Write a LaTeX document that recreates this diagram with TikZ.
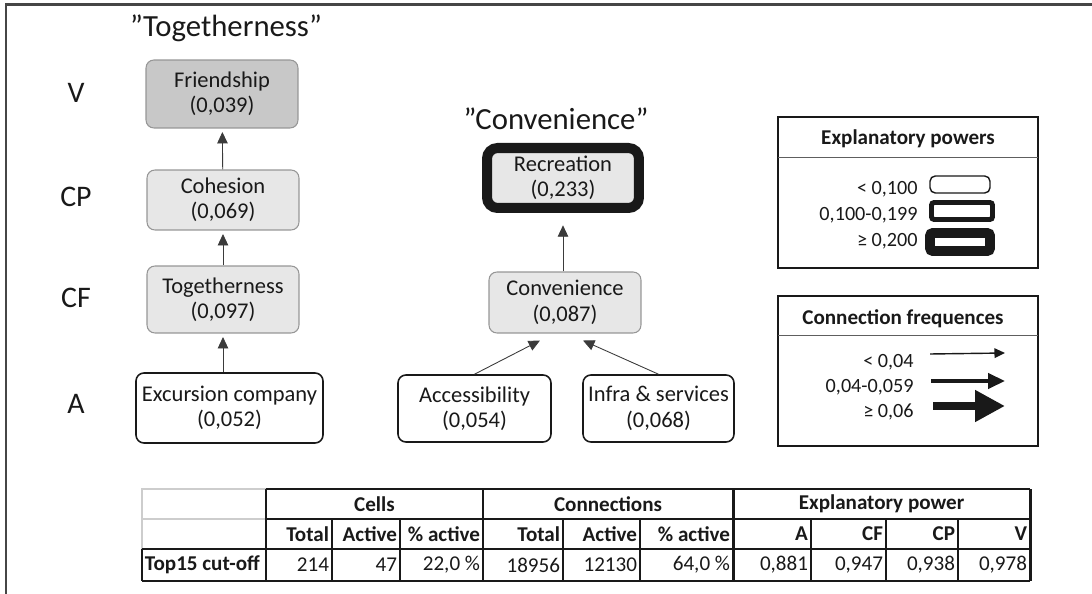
\documentclass[tikz,border=0pt]{standalone}
\usepackage{fontspec}
\setmainfont{Carlito}
\usepackage{tikz}
\usepackage{xcolor}
\usetikzlibrary{calc,arrows.meta}
\definecolor{framegrey}{RGB}{70,70,70}
\definecolor{boxdark}{RGB}{200,200,200}
\definecolor{boxlight}{RGB}{231,231,231}
\definecolor{boxline}{RGB}{150,150,150}
\definecolor{cellgrey}{RGB}{205,205,205}
\definecolor{inkblack}{RGB}{25,25,25}

\tikzset{
  boxtext/.style={font=\fontsize{12.8}{14.5}\selectfont, align=center, text=inkblack, inner sep=0pt},
  greybox/.style={boxtext, draw=boxline, fill=boxlight, rounded corners=4.5pt, line width=0.6pt, minimum width=3.04cm},
  whitebox/.style={boxtext, draw=inkblack, fill=white, rounded corners=4.5pt, line width=0.9pt},
  leveltext/.style={font=\fontsize{17}{20}\selectfont, text=inkblack},
  titletext/.style={font=\fontsize{17.5}{20}\selectfont, text=inkblack},
  linkarrow/.style={-{Triangle[length=6.5pt,width=6pt]}, line width=0.5pt, inkblack!85, shorten >=2pt},
  legendtitle/.style={font=\fontsize{12}{14}\selectfont\bfseries, text=inkblack},
  legendrow/.style={font=\fontsize{11.5}{13}\selectfont, anchor=east, text=inkblack, inner sep=0pt},
  tabhead/.style={font=\fontsize{12}{14}\selectfont\bfseries, text=inkblack},
  tabcell/.style={font=\fontsize{12}{14}\selectfont, anchor=east, text=inkblack, inner sep=1.5pt},
  tabthin/.style={inkblack, line width=1.1pt},
  tabthick/.style={inkblack, line width=1.7pt},
}

\begin{document}
\begin{tikzpicture}[x=0.02cm, y=-0.02cm]
\useasboundingbox (0,0) rectangle (1092,594);

% 1. FRAME
\draw[framegrey, line width=1.2pt] (6,594) -- (6,4.5) -- (1092,4.5);

% Titles and levels
\node[titletext] (titletog) at (226,28) {”Togetherness”};
\node[titletext] (titleconv) at (556,119) {”Convenience”};
\node[leveltext] (levv) at (76,93) {V};
\node[leveltext] (levcp) at (76,197) {CP};
\node[leveltext] (levcf) at (76,298) {CF};
\node[leveltext] (leva) at (76,404) {A};

% 2. TOGETHERNESS CHAIN
\node[greybox, fill=boxdark, minimum height=1.36cm] (friend) at (222,94) {Friendship\\(0,039)};
\node[greybox, minimum height=1.2cm] (cohes) at (223,200) {Cohesion\\(0,069)};
\node[greybox, minimum height=1.34cm] (togeth) at (223,299.5) {Togetherness\\(0,097)};
\node[whitebox, minimum width=3.74cm, minimum height=1.4cm] (excur) at (229.5,408) {Excursion company\\(0,052)};

\draw[linkarrow] (cohes) -- (friend);
\draw[linkarrow] (togeth) -- (cohes);
\draw[linkarrow] (excur.north -| togeth.south) -- (togeth.south);

% 3. CONVENIENCE CHAIN
\node[greybox, draw=inkblack, line width=5.7pt, rounded corners=6pt, minimum height=1.2cm] (recre) at (563,178) {Recreation\\(0,233)};
\node[greybox, minimum height=1.22cm] (conv) at (565,302.5) {Convenience\\(0,087)};
\node[whitebox, minimum width=3.06cm, minimum height=1.34cm] (access) at (474.5,408.5) {Accessibility\\(0,054)};
\node[whitebox, minimum width=3.02cm, minimum height=1.34cm] (infra) at (658.5,408.5) {Infra \& services\\(0,068)};

\coordinate (convleft) at ($(conv.south)+(-25,7)$);
\coordinate (convright) at ($(conv.south)+(18,7)$);
\draw[linkarrow, shorten >=7pt] (conv.north -| recre.south) -- (recre.south);
\draw[linkarrow, shorten >=0pt] (access.north) -- (convleft);
\draw[linkarrow, shorten >=0pt] (infra.north) -- (convright);

% 4. LEGEND: EXPLANATORY POWERS
\draw[inkblack, line width=0.8pt] (778,117) rectangle (1038,268);
\draw[inkblack!70, line width=0.5pt] (778,157) -- (1038,157);
\node[legendtitle] (powtitle) at (908,139) {Explanatory powers};
\node[legendrow] (powlow) at (918,189) {< 0,100};
\node[legendrow] (powmid) at (918,215) {0,100-0,199};
\node[legendrow] (powhigh) at (918,241) {≥ 0,200};
\draw[inkblack, line width=0.8pt, rounded corners=3pt] (930,176) rectangle (990,193);
\draw[inkblack, line width=2.8pt, rounded corners=1.5pt] (931.5,202.5) rectangle (992.5,219.5);
\draw[inkblack, line width=5.5pt, rounded corners=1.5pt] (930,233) rectangle (990,251);

% 5. LEGEND: CONNECTION FREQUENCES
\draw[inkblack, line width=0.8pt] (778,296) rectangle (1038,446);
\draw[inkblack!70, line width=0.5pt] (778,335) -- (1038,335);
\node[legendtitle] (freqtitle) at (903,319) {Connection frequences};
\node[legendrow] (freqlow) at (914,362) {< 0,04};
\node[legendrow] (freqmid) at (914,387) {0,04-0,059};
\node[legendrow] (freqhigh) at (914,412) {≥ 0,06};
\coordinate (thinfrom) at (930,354);
\coordinate (thinto) at (1005,353);
\coordinate (midfrom) at (931,381);
\coordinate (midto) at (1005,381);
\coordinate (fatfrom) at (933,406);
\coordinate (fatto) at (1005,406);
\draw[inkblack, line width=0.8pt, -{Triangle[length=6pt,width=5.5pt]}] (thinfrom) -- (thinto);
\draw[inkblack, line width=2.8pt, -{Triangle[length=9.6pt,width=8.5pt]}] (midfrom) -- (midto);
\draw[inkblack, line width=5pt, -{Triangle[length=17pt,width=17pt]}] (fatfrom) -- (fatto);

% 6. TABLE
% Empty corner cells
\draw[cellgrey, line width=0.6pt] (142,549) -- (142,489) -- (266,489);
\draw[cellgrey, line width=0.6pt] (142,519) -- (266,519);

% Grid
\draw[tabthick] (266,489) -- (1030,489);
\draw[tabthin] (266,519) -- (1030,519);
\draw[tabthin] (142,549) -- (1030,549);
\draw[tabthick] (142,581) -- (1030,581);
\draw[tabthin] (142,549) -- (142,581);
\foreach \xl in {266, 483, 733, 1030} {
    \draw[tabthick] (\xl,489) -- (\xl,581);
}
\foreach \xl in {332, 400, 563, 640, 811, 886, 958} {
    \draw[tabthin] (\xl,519) -- (\xl,581);
}

% Group headers
\node[tabhead] (hcells) at (374.5,504) {Cells};
\node[tabhead] (hconn) at (608,504) {Connections};
\node[tabhead] (hpower) at (881.5,504) {Explanatory power};

% Column headers and values
\foreach \xr/\txt in {332/Total, 400/Active, 483/{\% active}, 563/Total, 640/Active, 733/{\% active}, 811/A, 886/CF, 958/CP, 1030/V} {
    \node[tabcell, font=\fontsize{12}{14}\selectfont\bfseries] at (\xr,534) {\txt};
}
\foreach \xr/\txt in {332/214, 400/47, 483/{22,0 \%}, 563/18956, 640/12130, 733/{64,0 \%}, 811/{0,881}, 886/{0,947}, 958/{0,938}, 1030/{0,978}} {
    \node[tabcell] at (\xr,565) {\txt};
}
\node[tabhead, anchor=west, inner sep=1.5pt] (rowlabel) at (142,565) {Top15 cut-off};

\end{tikzpicture}
\end{document}
